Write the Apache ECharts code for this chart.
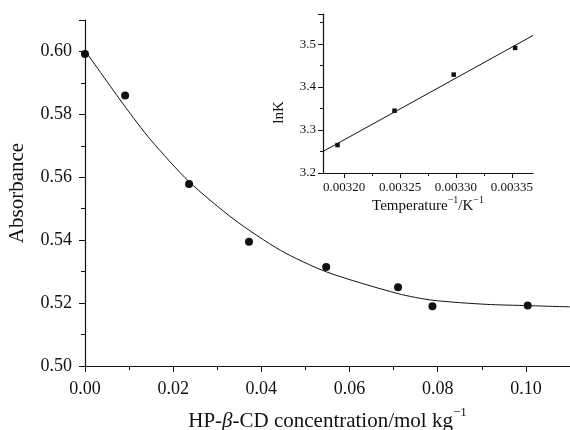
<!DOCTYPE html>
<html>
<head>
<meta charset="utf-8">
<script src="https://cdn.jsdelivr.net/npm/echarts@6/dist/echarts.min.js"></script>
<style>
  html, body { margin: 0; padding: 0; background: #fff; }
  #chart { width: 570px; height: 430px; }
</style>
</head>
<body>
<div id="chart"></div>
<script>
// main plot: absorbance vs HP-beta-CD concentration
const concentration = [0.0000, 0.0091, 0.0236, 0.0372, 0.0547, 0.0710, 0.0788, 0.1004];
const absorbance = [0.5992, 0.5860, 0.5579, 0.5395, 0.5315, 0.5250, 0.5190, 0.5192];
// fitted curve
const fitX = [0.0000, 0.0088, 0.0149, 0.0236, 0.0338, 0.0443, 0.0548, 0.0710, 0.0789, 0.0910, 0.1004, 0.1100];
const fitY = [0.6003, 0.5830, 0.5719, 0.5586, 0.5466, 0.5368, 0.5299, 0.5230, 0.5209, 0.5196, 0.5192, 0.5188];

// inset: lnK vs 1/T
const invT = [0.003194, 0.003245, 0.003298, 0.003353];
const lnK = [3.265, 3.345, 3.429, 3.491];
const lineX = [0.003181, 0.003369];
const lineY = [3.250, 3.520];
const insetTicks = [0.00320, 0.00325, 0.00330, 0.00335];
const insetMinorTicks = [0.003225, 0.003275, 0.003325];

const serif = "'Liberation Serif', 'DejaVu Serif', serif";
const ink = '#111';

const chart = echarts.init(document.getElementById('chart'));

function axisBase(fontSize) {
  return {
    axisLine: { lineStyle: { color: ink, width: 1.2 } },
    axisTick: { show: true, length: 6, lineStyle: { color: ink, width: 1 } },
    minorTick: { show: true, splitNumber: 2, length: 4, lineStyle: { color: ink, width: 1 } },
    splitLine: { show: false },
    axisLabel: { color: ink, fontFamily: serif, fontSize: fontSize }
  };
}

const mainX = axisBase(18);
Object.assign(mainX, {
  type: 'value', gridIndex: 0, min: 0, max: 0.11, interval: 0.02,
  name: '{n|HP-}{b|β}{n|-CD concentration/mol kg}{s|−1}',
  nameLocation: 'middle', nameGap: 40,
  nameTextStyle: {
    color: ink, fontFamily: serif, fontSize: 21,
    rich: {
      n: { color: ink, fontFamily: serif, fontSize: 21, lineHeight: 30 },
      b: { color: ink, fontFamily: serif, fontSize: 21, lineHeight: 30, fontStyle: 'italic' },
      s: { color: ink, fontFamily: serif, fontSize: 13, verticalAlign: 'top' }
    }
  }
});
mainX.axisLabel.margin = 14;
mainX.axisLabel.showMaxLabel = false;
mainX.axisLabel.formatter = v => v.toFixed(2);

const mainY = axisBase(18);
Object.assign(mainY, {
  type: 'value', gridIndex: 0, min: 0.50, max: 0.61, interval: 0.02,
  name: 'Absorbance', nameLocation: 'middle', nameGap: 57,
  nameTextStyle: { color: ink, fontFamily: serif, fontSize: 21 }
});
mainY.axisLabel.margin = 13;
mainY.axisLabel.showMaxLabel = false;
mainY.axisLabel.formatter = v => v.toFixed(2);

const insetX = axisBase(13);
Object.assign(insetX, {
  type: 'value', gridIndex: 1, min: lineX[0], max: lineX[1], position: 'bottom',
  name: '{n|Temperature}{s|−1}{n|/K}{s|−1}',
  nameLocation: 'middle', nameGap: 19,
  nameTextStyle: {
    color: ink, fontFamily: serif, fontSize: 15,
    rich: {
      n: { color: ink, fontFamily: serif, fontSize: 15, lineHeight: 22 },
      s: { color: ink, fontFamily: serif, fontSize: 10, verticalAlign: 'top' }
    }
  }
});
insetX.axisTick = { show: true, length: 5, customValues: insetTicks, lineStyle: { color: ink, width: 1 } };
insetX.minorTick = { show: false };
insetX.axisLabel.customValues = insetTicks;
insetX.axisLabel.margin = 8;
insetX.axisLabel.formatter = v => v.toFixed(5);

// second x axis on the inset just to draw the short minor ticks
const insetXMinor = {
  type: 'value', gridIndex: 1, min: lineX[0], max: lineX[1], position: 'bottom',
  axisLine: { show: false },
  axisTick: { show: true, length: 3, customValues: insetMinorTicks, lineStyle: { color: ink, width: 1 } },
  axisLabel: { show: false },
  splitLine: { show: false }
};

const insetY = axisBase(13);
Object.assign(insetY, {
  type: 'value', gridIndex: 1, min: 3.2, max: 3.57, interval: 0.1,
  name: 'lnK', nameLocation: 'middle', nameGap: 36,
  nameTextStyle: { color: ink, fontFamily: serif, fontSize: 15, padding: [0, 38, 0, 0] }
});
insetY.axisTick.length = 5;
insetY.minorTick.length = 3;
insetY.axisLabel.margin = 7;
insetY.axisLabel.showMaxLabel = false;
insetY.axisLabel.formatter = v => v.toFixed(1);

const option = {
  animation: false,
  backgroundColor: '#fff',
  grid: [
    { left: 85, right: 0, top: 20, bottom: 64, containLabel: false, outerBoundsMode: 'none' },
    { left: 323, right: 37, top: 14, bottom: 257, containLabel: false, outerBoundsMode: 'none' }
  ],
  xAxis: [mainX, insetX, insetXMinor],
  yAxis: [mainY, insetY],
  series: [
    {
      type: 'line', xAxisIndex: 0, yAxisIndex: 0,
      data: fitX.map((x, i) => [x, fitY[i]]),
      smooth: 0.25, showSymbol: false,
      lineStyle: { color: ink, width: 1 }
    },
    {
      type: 'scatter', xAxisIndex: 0, yAxisIndex: 0,
      data: concentration.map((x, i) => [x, absorbance[i]]),
      symbol: 'circle', symbolSize: 8,
      itemStyle: { color: ink, opacity: 1 }
    },
    {
      type: 'line', xAxisIndex: 1, yAxisIndex: 1,
      data: lineX.map((x, i) => [x, lineY[i]]),
      showSymbol: false,
      lineStyle: { color: ink, width: 1 }
    },
    {
      type: 'scatter', xAxisIndex: 1, yAxisIndex: 1,
      data: invT.map((x, i) => [x, lnK[i]]),
      symbol: 'rect', symbolSize: 4.5,
      itemStyle: { color: ink, opacity: 1 }
    }
  ]
};

chart.setOption(option);
</script>
</body>
</html>
